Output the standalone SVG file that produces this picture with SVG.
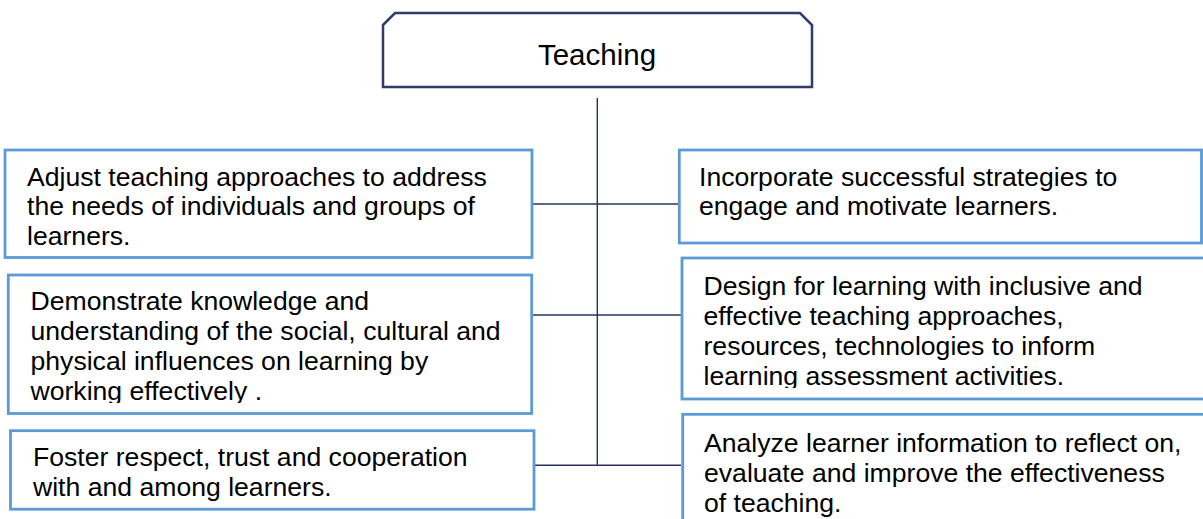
<svg xmlns="http://www.w3.org/2000/svg" width="1203" height="519" viewBox="0 0 1203 519">
<style>
.box{fill:#ffffff;stroke:#5b9bd5;stroke-width:2.8}
.t{font-family:"Liberation Sans",Arial,sans-serif;font-size:26.6px;fill:#000000}
.c{stroke:#26335f;stroke-width:1.4;fill:none}
</style>
<defs>
<clipPath id="clipL2"><rect x="10" y="276" width="520" height="127"/></clipPath>
<clipPath id="clipR2"><rect x="684" y="259" width="519" height="129"/></clipPath>
</defs>
<rect width="1203" height="519" fill="#ffffff"/>
<g id="connectors">
<line class="c" x1="597.3" y1="98" x2="597.3" y2="465"/>
<line class="c" x1="532" y1="204" x2="678" y2="204"/>
<line class="c" x1="532" y1="315" x2="681" y2="315"/>
<line class="c" x1="532" y1="465.3" x2="681" y2="465.3"/>
</g>
<g id="teaching">
<polygon points="383,25 395,13 800,13 812,25 812,87 383,87" fill="#ffffff" stroke="#2f3b69" stroke-width="2.5"/>
<text x="597" y="65" text-anchor="middle" font-family="Liberation Sans,Arial,sans-serif" font-size="29.5" fill="#000">Teaching</text>
</g>
<g id="adjust">
<rect class="box" x="5" y="150" width="527" height="107.5"/>
<text class="t"><tspan x="27" y="185.5">Adjust teaching approaches to address</tspan><tspan x="27" y="215">the needs of individuals and groups of</tspan><tspan x="27" y="245">learners.</tspan></text>
</g>
<g id="incorporate">
<rect class="box" x="679.3" y="150" width="522.2" height="93"/>
<text class="t"><tspan x="699" y="185.5">Incorporate successful strategies to</tspan><tspan x="699" y="215">engage and motivate learners.</tspan></text>
</g>
<g id="demonstrate">
<rect class="box" x="8.3" y="275" width="523.4" height="138.5"/>
<text class="t" clip-path="url(#clipL2)"><tspan x="30.5" y="309.5">Demonstrate knowledge and</tspan><tspan x="30.5" y="339.8">understanding of the social, cultural and</tspan><tspan x="30.5" y="370">physical influences on learning by</tspan><tspan x="30.5" y="400.3">working effectively .</tspan></text>
</g>
<g id="design">
<rect class="box" x="682" y="258" width="530" height="141"/>
<text class="t" clip-path="url(#clipR2)"><tspan x="703.5" y="294.5">Design for learning with inclusive and</tspan><tspan x="703.5" y="324.8">effective teaching approaches,</tspan><tspan x="703.5" y="355">resources, technologies to inform</tspan><tspan x="703.5" y="385.3">learning assessment activities.</tspan></text>
</g>
<g id="foster">
<rect class="box" x="10.5" y="430.7" width="523.5" height="78.5"/>
<text class="t"><tspan x="33" y="466">Foster respect, trust and cooperation</tspan><tspan x="33" y="496">with and among learners.</tspan></text>
</g>
<g id="analyze">
<rect class="box" x="682.7" y="414.3" width="530" height="120"/>
<text class="t"><tspan x="704" y="451.5">Analyze learner information to reflect on,</tspan><tspan x="704" y="481.5">evaluate and improve the effectiveness</tspan><tspan x="704" y="511.5">of teaching.</tspan></text>
</g>
</svg>
